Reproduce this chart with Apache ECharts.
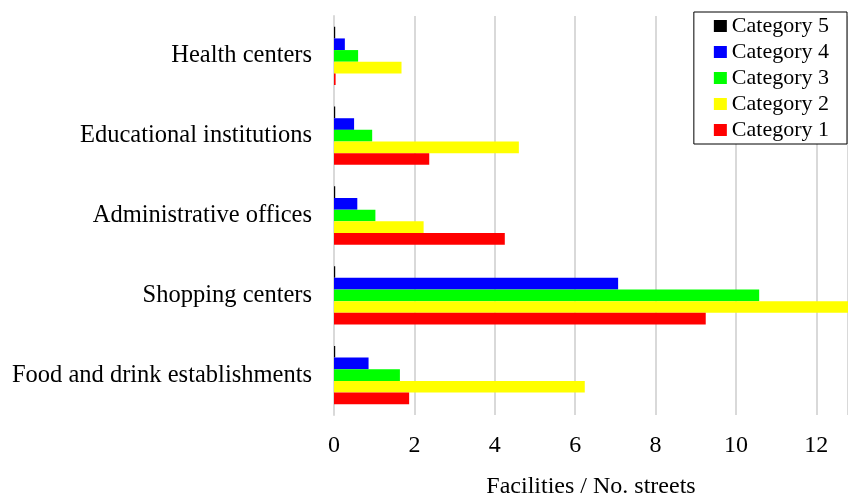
<!DOCTYPE html>
<html>
<head>
<meta charset="UTF-8">
<title>Facilities / No. streets</title>
<script src="https://cdn.jsdelivr.net/npm/echarts/dist/echarts.min.js"></script>
<style>
  body { margin: 0; background: #fff; }
  #chart { width: 848px; height: 497px; }
</style>
</head>
<body>
<div id="chart"></div>
<script>
// categories, bottom to top
var facilities = ['Food and drink establishments', 'Shopping centers', 'Administrative offices', 'Educational institutions', 'Health centers'];

var category1 = [1.87, 9.25, 4.25, 2.37, 0.04];
var category2 = [6.24, 13.2, 2.23, 4.6, 1.68];
var category3 = [1.64, 10.58, 1.03, 0.95, 0.6];
var category4 = [0.86, 7.07, 0.58, 0.5, 0.27];
var category5 = [0.03, 0.03, 0.03, 0.03, 0.03];

// top of each group first (Category 5) down to Category 1
var seriesNames = ['Category 5', 'Category 4', 'Category 3', 'Category 2', 'Category 1'];
var seriesColors = ['#000000', '#0000ff', '#00ff00', '#ffff00', '#ff0000'];
var seriesData = [category5, category4, category3, category2, category1];

var font = '"Liberation Serif", "Times New Roman", serif';

var chart = echarts.init(document.getElementById('chart'));

var series = [];
for (var i = 0; i < seriesNames.length; i++) {
  series.push({
    name: seriesNames[i],
    type: 'bar',
    data: seriesData[i],
    itemStyle: { color: seriesColors[i] },
    barGap: '0%',
    barCategoryGap: '27%'
  });
}

chart.setOption({
  animation: false,
  textStyle: { fontFamily: font },
  grid: { left: 334, right: 0, top: 16, bottom: 82, outerBoundsMode: 'none', containLabel: false },
  legend: {
    orient: 'vertical',
    right: 1,
    top: 12,
    data: seriesNames,
    icon: 'rect',
    itemWidth: 13,
    itemHeight: 12,
    itemGap: 4,
    padding: [3, 18, 3, 20],
    backgroundColor: '#fff',
    borderColor: '#000',
    borderWidth: 1,
    textStyle: { fontFamily: font, fontSize: 22, color: '#000' }
  },
  xAxis: {
    type: 'value',
    min: 0,
    max: 12.79,
    interval: 2,
    name: 'Facilities / No. streets',
    nameLocation: 'middle',
    nameGap: 60,
    nameTextStyle: { fontFamily: font, fontSize: 24, color: '#000' },
    axisLine: { show: false },
    axisTick: { show: false },
    axisLabel: { fontFamily: font, fontSize: 24, color: '#000', margin: 19, showMaxLabel: false },
    splitLine: { lineStyle: { color: '#d9d9d9', width: 2 } }
  },
  yAxis: {
    type: 'category',
    data: facilities,
    axisLine: { lineStyle: { color: '#d9d9d9', width: 2 } },
    axisTick: { show: false },
    axisLabel: { fontFamily: font, fontSize: 24.5, color: '#000', margin: 22 }
  },
  series: series
});
</script>
</body>
</html>
